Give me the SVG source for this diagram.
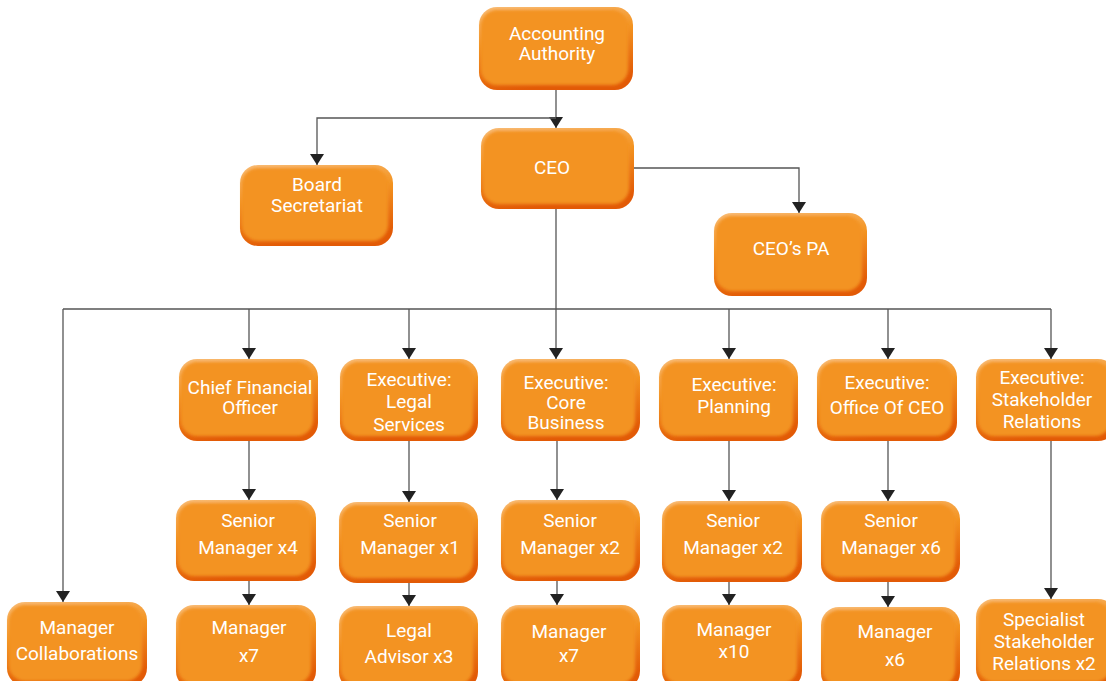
<svg xmlns="http://www.w3.org/2000/svg" width="1106" height="681" viewBox="0 0 1106 681">
<style>
.base{fill:url(#edge)}
.face{fill:#F39320;filter:url(#soft)}
.t{font-family:Roboto,"Liberation Sans",sans-serif;font-size:19px;fill:#fff;text-anchor:middle}
.c{fill:none;stroke:#555;stroke-width:1.3}
</style>
<defs>
<linearGradient id="edge" x1="0" y1="0" x2="0.25" y2="1">
<stop offset="0" stop-color="#F9BD7A"/>
<stop offset="0.45" stop-color="#F39320"/>
<stop offset="1" stop-color="#E25A06"/>
</linearGradient>
<filter id="soft" x="-5%" y="-5%" width="110%" height="110%"><feGaussianBlur stdDeviation="1.6"/></filter>
<marker id="arr" markerUnits="userSpaceOnUse" markerWidth="14" markerHeight="12" viewBox="0 0 14 12" refX="7" refY="11" orient="0">
<path d="M0 0 L14 0 L7 11 Z" fill="#222"/>
</marker>
</defs>
<rect width="1106" height="681" fill="#fff"/>
<g id="connectors">
<path class="c" d="M556 90 V128" marker-end="url(#arr)"/>
<path class="c" d="M556 118 H317 V165" marker-end="url(#arr)"/>
<path class="c" d="M634 168 H799 V213" marker-end="url(#arr)"/>
<path class="c" d="M556 209 V359" marker-end="url(#arr)"/>
<path class="c" d="M63 309 H1051"/>
<path class="c" d="M63 309 V602" marker-end="url(#arr)"/>
<path class="c" d="M249 309 V359" marker-end="url(#arr)"/>
<path class="c" d="M409 309 V359" marker-end="url(#arr)"/>
<path class="c" d="M729 309 V359" marker-end="url(#arr)"/>
<path class="c" d="M888 309 V359" marker-end="url(#arr)"/>
<path class="c" d="M1051 309 V359" marker-end="url(#arr)"/>
<path class="c" d="M249 441 V500" marker-end="url(#arr)"/>
<path class="c" d="M409 441 V502" marker-end="url(#arr)"/>
<path class="c" d="M557 441 V500" marker-end="url(#arr)"/>
<path class="c" d="M729 441 V501" marker-end="url(#arr)"/>
<path class="c" d="M888 441 V501" marker-end="url(#arr)"/>
<path class="c" d="M1051 441 V599" marker-end="url(#arr)"/>
<path class="c" d="M249 581 V605" marker-end="url(#arr)"/>
<path class="c" d="M409 583 V606" marker-end="url(#arr)"/>
<path class="c" d="M557 581 V605" marker-end="url(#arr)"/>
<path class="c" d="M729 582 V605" marker-end="url(#arr)"/>
<path class="c" d="M888 582 V607" marker-end="url(#arr)"/>
</g>
<g id="accounting-authority">
<rect class="base" x="479" y="7" width="154" height="83" rx="18"/>
<rect class="face" x="481" y="10" width="147" height="75" rx="16"/>
<text class="t" x="557" y="40">Accounting</text>
<text class="t" x="557" y="60">Authority</text>
</g>
<g id="ceo">
<rect class="base" x="481" y="128" width="153" height="81" rx="18"/>
<rect class="face" x="483" y="131" width="146" height="73" rx="16"/>
<text class="t" x="552" y="174">CEO</text>
</g>
<g id="board-secretariat">
<rect class="base" x="240" y="165" width="153" height="81" rx="18"/>
<rect class="face" x="242" y="168" width="146" height="73" rx="16"/>
<text class="t" x="317" y="191">Board</text>
<text class="t" x="317" y="212">Secretariat</text>
</g>
<g id="ceo-pa">
<rect class="base" x="714" y="213" width="153" height="83" rx="18"/>
<rect class="face" x="716" y="216" width="146" height="75" rx="16"/>
<text class="t" x="791" y="255">CEO’s PA</text>
</g>
<g id="cfo">
<rect class="base" x="179" y="359" width="139" height="82" rx="18"/>
<rect class="face" x="181" y="362" width="132" height="74" rx="16"/>
<text class="t" x="250" y="394">Chief Financial</text>
<text class="t" x="250" y="414">Officer</text>
</g>
<g id="exec-legal">
<rect class="base" x="340" y="359" width="138" height="82" rx="18"/>
<rect class="face" x="342" y="362" width="131" height="74" rx="16"/>
<text class="t" x="409" y="386">Executive:</text>
<text class="t" x="409" y="408">Legal</text>
<text class="t" x="409" y="431">Services</text>
</g>
<g id="exec-core">
<rect class="base" x="501" y="359" width="139" height="82" rx="18"/>
<rect class="face" x="503" y="362" width="132" height="74" rx="16"/>
<text class="t" x="566" y="389">Executive:</text>
<text class="t" x="566" y="409">Core</text>
<text class="t" x="566" y="429">Business</text>
</g>
<g id="exec-planning">
<rect class="base" x="659" y="359" width="139" height="82" rx="18"/>
<rect class="face" x="661" y="362" width="132" height="74" rx="16"/>
<text class="t" x="734" y="391">Executive:</text>
<text class="t" x="734" y="413">Planning</text>
</g>
<g id="exec-office">
<rect class="base" x="817" y="359" width="140" height="82" rx="18"/>
<rect class="face" x="819" y="362" width="133" height="74" rx="16"/>
<text class="t" x="887" y="389">Executive:</text>
<text class="t" x="887" y="414">Office Of CEO</text>
</g>
<g id="exec-stakeholder">
<rect class="base" x="976" y="359" width="140" height="82" rx="18"/>
<rect class="face" x="978" y="362" width="133" height="74" rx="16"/>
<text class="t" x="1042" y="384">Executive:</text>
<text class="t" x="1042" y="406">Stakeholder</text>
<text class="t" x="1042" y="428">Relations</text>
</g>
<g id="senior-cfo">
<rect class="base" x="176" y="500" width="140" height="81" rx="18"/>
<rect class="face" x="178" y="503" width="133" height="73" rx="16"/>
<text class="t" x="248" y="527">Senior</text>
<text class="t" x="248" y="554">Manager x4</text>
</g>
<g id="senior-legal">
<rect class="base" x="339" y="502" width="139" height="81" rx="18"/>
<rect class="face" x="341" y="505" width="132" height="73" rx="16"/>
<text class="t" x="410" y="527">Senior</text>
<text class="t" x="410" y="554">Manager x1</text>
</g>
<g id="senior-core">
<rect class="base" x="501" y="500" width="139" height="81" rx="18"/>
<rect class="face" x="503" y="503" width="132" height="73" rx="16"/>
<text class="t" x="570" y="527">Senior</text>
<text class="t" x="570" y="554">Manager x2</text>
</g>
<g id="senior-planning">
<rect class="base" x="662" y="501" width="140" height="81" rx="18"/>
<rect class="face" x="664" y="504" width="133" height="73" rx="16"/>
<text class="t" x="733" y="527">Senior</text>
<text class="t" x="733" y="554">Manager x2</text>
</g>
<g id="senior-office">
<rect class="base" x="821" y="501" width="139" height="81" rx="18"/>
<rect class="face" x="823" y="504" width="132" height="73" rx="16"/>
<text class="t" x="891" y="527">Senior</text>
<text class="t" x="891" y="554">Manager x6</text>
</g>
<g id="manager-collaborations">
<rect class="base" x="7" y="602" width="140" height="84" rx="18"/>
<rect class="face" x="9" y="605" width="133" height="76" rx="16"/>
<text class="t" x="77" y="634">Manager</text>
<text class="t" x="77" y="660">Collaborations</text>
</g>
<g id="manager-cfo">
<rect class="base" x="176" y="605" width="140" height="84" rx="18"/>
<rect class="face" x="178" y="608" width="133" height="76" rx="16"/>
<text class="t" x="249" y="634">Manager</text>
<text class="t" x="249" y="662">x7</text>
</g>
<g id="legal-advisor">
<rect class="base" x="339" y="606" width="139" height="84" rx="18"/>
<rect class="face" x="341" y="609" width="132" height="76" rx="16"/>
<text class="t" x="409" y="637">Legal</text>
<text class="t" x="409" y="663">Advisor x3</text>
</g>
<g id="manager-core">
<rect class="base" x="501" y="605" width="139" height="84" rx="18"/>
<rect class="face" x="503" y="608" width="132" height="76" rx="16"/>
<text class="t" x="569" y="638">Manager</text>
<text class="t" x="569" y="662">x7</text>
</g>
<g id="manager-planning">
<rect class="base" x="662" y="605" width="140" height="84" rx="18"/>
<rect class="face" x="664" y="608" width="133" height="76" rx="16"/>
<text class="t" x="734" y="636">Manager</text>
<text class="t" x="734" y="658">x10</text>
</g>
<g id="manager-office">
<rect class="base" x="821" y="607" width="139" height="84" rx="18"/>
<rect class="face" x="823" y="610" width="132" height="76" rx="16"/>
<text class="t" x="895" y="638">Manager</text>
<text class="t" x="895" y="666">x6</text>
</g>
<g id="specialist-stakeholder">
<rect class="base" x="976" y="599" width="140" height="88" rx="18"/>
<rect class="face" x="978" y="602" width="133" height="80" rx="16"/>
<text class="t" x="1044" y="626">Specialist</text>
<text class="t" x="1044" y="648">Stakeholder</text>
<text class="t" x="1044" y="670">Relations x2</text>
</g>
</svg>
